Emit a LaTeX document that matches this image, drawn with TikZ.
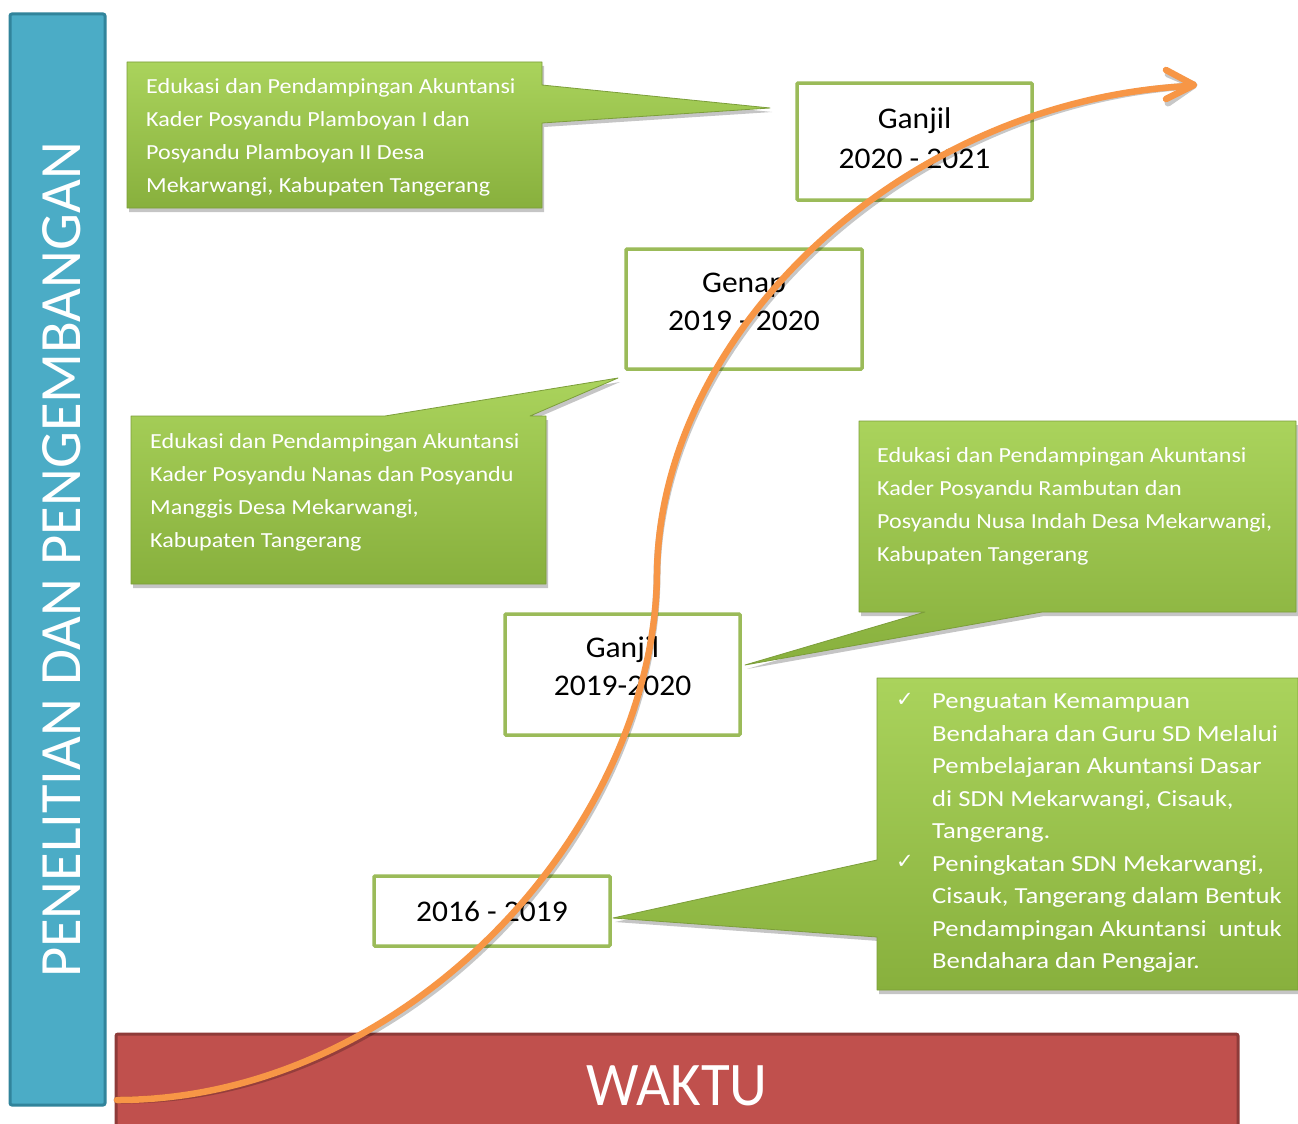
\documentclass[tikz,border=0pt]{standalone}
\usepackage{fontspec}
\setmainfont{Carlito}
\newfontfamily\cfont{Carlito}[FakeStretch=1.12]
\newfontfamily\dfont{Carlito}[FakeStretch=1.16]
\newfontfamily\bfont{Carlito}[FakeStretch=1.05]
\newfontfamily\wfont{Carlito}[FakeStretch=0.95]
\newfontfamily\symfont{DejaVu Sans}
\usetikzlibrary{shadows}
\definecolor{tlgreen}{HTML}{9BBB59}
\definecolor{gtop}{HTML}{AAD35C}
\definecolor{gbot}{HTML}{88B03D}
\definecolor{gedge}{HTML}{7C9E3A}
\definecolor{blu}{HTML}{4BACC6}
\definecolor{bluedge}{HTML}{31849B}
\definecolor{redf}{HTML}{C0504D}
\definecolor{rededge}{HTML}{8E3B39}
\definecolor{orng}{HTML}{F79646}
\begin{document}
\begin{tikzpicture}[x=1pt,y=-1pt,
 callout/.style={top color=gtop, bottom color=gbot, draw=gedge, line width=0.8pt, line join=round,
   drop shadow={opacity=0.45, shadow xshift=2pt, shadow yshift=-4pt}},
 ctext/.style={anchor=north west, inner sep=0pt, text=white, align=left, font=\cfont\fontsize{21.5}{33}\selectfont},
 dtext/.style={anchor=north west, inner sep=0pt, text=white, align=left, font=\dfont\fontsize{23}{32.5}\selectfont},
 chk/.style={inner sep=0pt, text=white, font=\symfont\fontsize{21}{21}\selectfont},
 tbox/.style={draw=tlgreen, line width=3.5pt, fill=white, rounded corners=1pt, inner sep=0pt},
 ttext/.style={inner sep=0pt, align=center, font=\bfont\fontsize{30}{38}\selectfont},
 curve/.style={orng, line width=6.5pt, line cap=round, line join=round},
]
\useasboundingbox (0,0) rectangle (1298,1124);
\fill[white] (0,0) rectangle (1298,1124);

% left bar
\draw[fill=blu, draw=bluedge, line width=3pt, rounded corners=2pt] (10,14) rectangle (105,1105);
\node[rotate=90, inner sep=0pt, text=white, font=\fontsize{58.5}{58.5}\selectfont] (vt) at (62,560) {PENELITIAN DAN PENGEMBANGAN};

% bottom bar
\draw[fill=redf, draw=rededge, line width=3pt, rounded corners=2pt] (116,1034) rectangle (1238,1140);
\node[inner sep=0pt, text=white, font=\wfont\fontsize{62}{62}\selectfont] (wk) at (677,1086) {WAKTU};

% callouts
\path[callout] (127,62) -- (542,62) -- (542,85) -- (770,108) -- (542,123) -- (542,208) -- (127,208) -- cycle;
\node[ctext] (ta) at (146,78) {Edukasi dan Pendampingan Akuntansi\\Kader Posyandu Plamboyan I dan\\Posyandu Plamboyan II Desa\\Mekarwangi, Kabupaten Tangerang};

\path[callout] (131,416) -- (385,416) -- (618,378) -- (530,416) -- (546,416) -- (546,584) -- (131,584) -- cycle;
\node[ctext] (tb) at (150,433) {Edukasi dan Pendampingan Akuntansi\\Kader Posyandu Nanas dan Posyandu\\Manggis Desa Mekarwangi,\\Kabupaten Tangerang};

\path[callout] (859,421) -- (1296,421) -- (1296,612) -- (1042,612) -- (745,665) -- (925,612) -- (859,612) -- cycle;
\node[ctext] (tc) at (877,447) {Edukasi dan Pendampingan Akuntansi\\Kader Posyandu Rambutan dan\\Posyandu Nusa Indah Desa Mekarwangi,\\Kabupaten Tangerang};

\path[callout] (877,678) -- (1298,678) -- (1298,990) -- (877,990) -- (877,937) -- (613,918) -- (877,860) -- cycle;
\node[chk] (c1) at (905,700) {✓};
\node[chk] (c2) at (905,862) {✓};
\node[dtext] (td) at (932,694) {Penguatan Kemampuan\\Bendahara dan Guru SD Melalui\\Pembelajaran Akuntansi Dasar\\di SDN Mekarwangi, Cisauk,\\Tangerang.\\Peningkatan SDN Mekarwangi,\\Cisauk, Tangerang dalam Bentuk\\Pendampingan Akuntansi~ untuk\\Bendahara dan Pengajar.};

% timeline boxes
\node[tbox, minimum width=235pt, minimum height=117pt] (b1) at (914.5,141.5) {};
\node[ttext, font=\bfont\fontsize{30}{40}\selectfont] (t1) at (914.5,138) {Ganjil\\2020 - 2021};
\node[tbox, minimum width=236pt, minimum height=120pt] (b2) at (744,309) {};
\node[ttext] (t2) at (744,302) {Genap\\2019 - 2020};
\node[tbox, minimum width=235pt, minimum height=121pt] (b3) at (622.5,674.5) {};
\node[ttext] (t3) at (622.5,666) {Ganjil\\2019-2020};
\node[tbox, minimum width=236pt, minimum height=70pt] (b4) at (492,911) {};
\node[ttext] (t4) at (492,911) {2016 - 2019};

% growth curve
\coordinate (cs) at (117,1100);
\coordinate (cm) at (657,573);
\coordinate (cend) at (1190,86);
\coordinate (ce) at (1194,85);
\begin{scope}[shift={(2,4)}]
\draw[black, opacity=0.22, line width=7pt, line cap=round] (cs) .. controls (405,1100) and (655,830) .. (cm) .. controls (660,330) and (905,100) .. (cend);
\draw[black, opacity=0.22, line width=7pt, line cap=round, line join=round] (1166,70) -- (ce) -- (1166,99);
\end{scope}
\draw[curve] (cs) .. controls (405,1100) and (655,830) .. (cm) .. controls (660,330) and (905,100) .. (cend);
\draw[curve] (1166,70) -- (ce) -- (1166,99);
\end{tikzpicture}
\end{document}
